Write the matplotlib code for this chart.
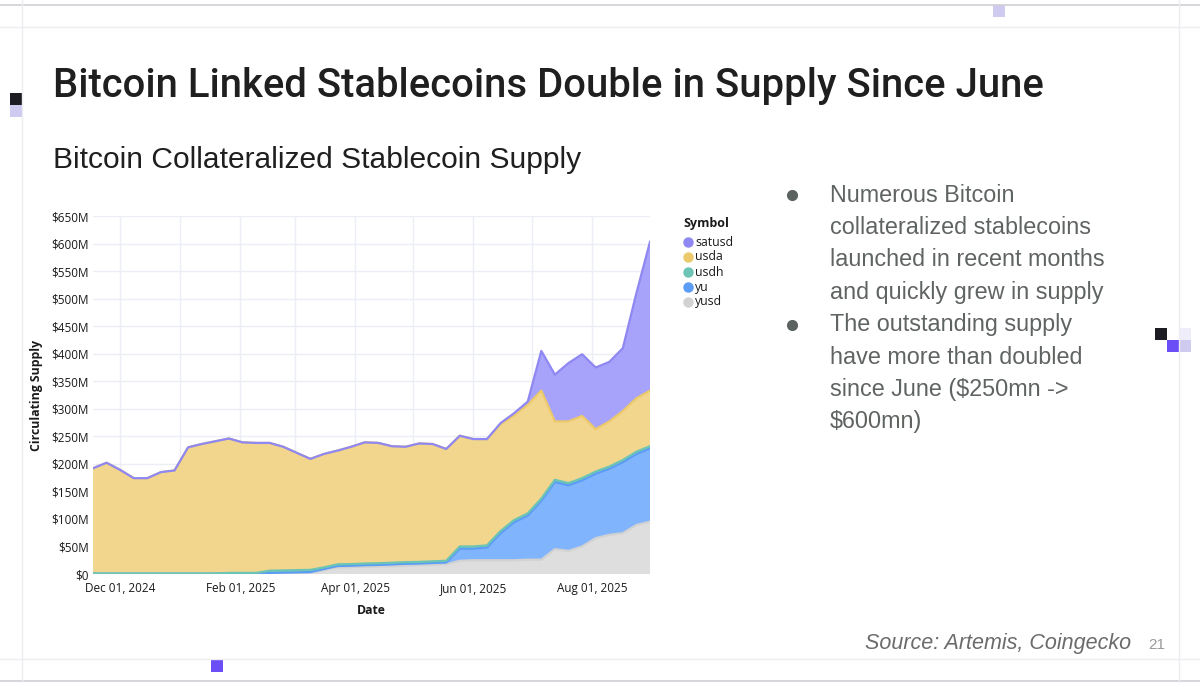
import matplotlib
matplotlib.use('Agg')
import matplotlib.pyplot as plt
import matplotlib.dates as mdates
from matplotlib.patches import Rectangle
from matplotlib.ticker import FuncFormatter, MultipleLocator
import pandas as pd

# weekly snapshots, Nov 17 2024 .. Aug 31 2025
dates = pd.date_range('2024-11-17', periods=42, freq='7D')

# circulating supply, $M
yusd = [0, 0, 0, 0, 0, 0, 0, 0, 0, 0, 0, 0,
        0, 0.5, 1, 1.5, 2, 7, 12, 12.5, 13, 13.5, 14, 15, 16, 16.5, 17.5,
        24, 25, 25, 25, 25, 26, 26, 45, 42, 50, 65, 71, 74, 89, 95]
yu = [0.5, 0.5, 0.5, 0.5, 0.5, 0.5, 0.5, 0.5, 0.5, 0.5, 1, 1,
      1, 1.5, 1.5, 1.5, 1.5, 2, 2.5, 2.5, 3, 3, 3.5, 3.5, 3, 3.5, 3.5,
      22, 21, 23, 49, 69, 80, 107, 122, 119, 120, 117, 120, 129, 129, 133]
usdh = [0.5, 0.5, 0.5, 0.5, 0.5, 0.5, 0.5, 0.5, 0.5, 0.5, 1, 1,
        1, 4, 4, 4, 4, 3, 3, 3, 3, 3, 3, 3, 3, 3, 3,
        4, 4, 4, 4, 4, 4, 4, 4, 4, 4, 4, 4, 4, 4, 4]
usda = [191, 201, 188, 173, 173, 184, 187, 229, 235, 240, 244, 237,
        236, 232, 224.5, 213, 201.5, 206, 206.5, 213, 220, 218.5, 211.5, 209.5, 215, 213, 203,
        201, 195, 193, 194, 190, 197, 196, 106, 112, 113, 77, 82, 89, 97, 101]
satusd = [0, 0, 0, 0, 0, 0, 0, 0, 0, 0, 0, 0,
          0, 0, 0, 0, 0, 0, 0, 0, 0, 0, 0, 0, 0, 0, 0,
          0, 0, 0, 2, 4, 6, 72, 85, 106, 112, 112, 108, 114, 191, 270]

series = [yusd, yu, usdh, usda, satusd]
names = ['yusd', 'yu', 'usdh', 'usda', 'satusd']
fills = ['#dedede', '#80b4fd', '#7fcfbf', '#f2d68e', '#a7a3fa']
lines = ['#d2d2d2', '#5b9cf6', '#6cc4b4', '#ecca6c', '#8f87f2']

W, H = 1200, 683
CHART_FONT = 'Open Sans'


def fx(x):
    return x / W


def fy(y):
    return 1 - y / H


fig = plt.figure(figsize=(12, 6.83), dpi=100)
fig.patch.set_facecolor('white')

# slide decorations, drawn in pixel coordinates
deco = fig.add_axes([0, 0, 1, 1])
deco.set_xlim(0, W)
deco.set_ylim(H, 0)
deco.axis('off')
deco.axhline(5, color='#cfcfd4', lw=1.2)
deco.axhline(27, color='#ececf2', lw=1)
deco.axhline(659, color='#ececf2', lw=1)
deco.axhline(681, color='#cfcfd4', lw=1.2)
deco.axvline(22, color='#ececf2', lw=1)
deco.axvline(1179, color='#ececf2', lw=1)
for (x, y, c) in [(10, 93, '#1c1c22'), (10, 105, '#cfcaf0'), (993, 5, '#cfcaf0'),
                  (1155, 328, '#1c1c22'), (1167, 340, '#6b4ef6'), (1179, 340, '#cfcaf0'),
                  (1179, 328, '#efedfa'), (211, 660, '#6b4ef6')]:
    deco.add_patch(Rectangle((x, y), 12, 12, color=c, lw=0))

fig.text(fx(53), fy(86), 'Bitcoin Linked Stablecoins Double in Supply Since June',
         family='Roboto', fontweight='medium', fontsize=28.8, color='#1f1f1f',
         va='center', ha='left')
fig.text(fx(53), fy(160), 'Bitcoin Collateralized Stablecoin Supply',
         family='Liberation Sans', fontsize=21.6, color='#1f1f1f', va='center', ha='left')

bullet_lines = ['Numerous Bitcoin', 'collateralized stablecoins', 'launched in recent months',
                'and quickly grew in supply', 'The outstanding supply', 'have more than doubled',
                'since June ($250mn ->', '$600mn)']
for i, t in enumerate(bullet_lines):
    fig.text(fx(830), fy(195 + i * 32.4), t, family='Liberation Sans', fontsize=16.8,
             color='#5f6461', va='center', ha='left')
for yb in [195, 325]:
    deco.plot([792], [yb], 'o', color='#5b6360', ms=7)

fig.text(fx(1131), fy(644), 'Source: Artemis, Coingecko', family='Liberation Sans',
         style='italic', fontsize=15.5, color='#6b6b6b', va='center', ha='right')
fig.text(fx(1148), fy(645), '21', family='Liberation Sans', fontsize=11,
         color='#9a9a9a', va='center', ha='left')

# chart
ax = fig.add_axes([fx(93), fy(574), (650 - 93) / W, (574 - 216) / H])
ax.set_facecolor('white')
ax.stackplot(dates, *series, colors=fills, lw=0, zorder=2)
cum = [0] * len(dates)
for s, c in zip(series, lines):
    cum = [a + b for a, b in zip(cum, s)]
    ax.plot(dates, cum, color=c, lw=1.6, zorder=3)

ax.set_xlim(dates[0], dates[-1])
ax.set_ylim(0, 650)
ax.yaxis.set_major_locator(MultipleLocator(50))
ax.yaxis.set_major_formatter(FuncFormatter(lambda v, p: '$0' if v == 0 else f'${v:.0f}M'))
ax.xaxis.set_major_locator(mdates.MonthLocator(bymonth=[12, 2, 4, 6, 8]))
ax.xaxis.set_minor_locator(mdates.MonthLocator())
ax.xaxis.set_major_formatter(mdates.DateFormatter('%b %d, %Y'))
ax.grid(True, which='both', color='#eceef5', lw=1, zorder=0)
ax.set_axisbelow(True)
for sp in ax.spines.values():
    sp.set_visible(False)
ax.tick_params(which='both', length=0, labelsize=8.5, labelcolor='#1a1a1a')
ax.tick_params(axis='x', pad=6)
ax.tick_params(axis='y', pad=3)
for lab in ax.get_xticklabels() + ax.get_yticklabels():
    lab.set_family(CHART_FONT)
ax.set_xlabel('Date', family=CHART_FONT, fontsize=8.8, fontweight='bold', labelpad=6,
              color='#1a1a1a')
ax.set_ylabel('Circulating Supply', family=CHART_FONT, fontsize=8.8, fontweight='bold',
              labelpad=6, color='#1a1a1a')

# legend, laid out like the plotly one
deco.text(683, 223, 'Symbol', family=CHART_FONT, fontsize=9, fontweight='bold',
          color='#1a1a1a', va='center', ha='left')
for k, (n, c) in enumerate(zip(names[::-1], lines[::-1])):
    yl = 242 + k * 15
    deco.plot([688], [yl], 'o', color=c, ms=6.5)
    deco.text(695, yl, n, family=CHART_FONT, fontsize=8.8, color='#1a1a1a',
              va='center', ha='left')

fig.savefig('out.png', dpi=100)
